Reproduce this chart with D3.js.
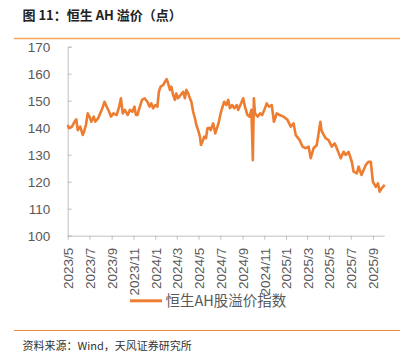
<!DOCTYPE html>
<html><head><meta charset="utf-8">
<script src="https://cdn.jsdelivr.net/npm/d3@7"></script>
<style>
html,body{margin:0;padding:0;background:#fff;}
svg{display:block;}
</style></head>
<body>
<script>
const dates = ["2023-05-01","2023-05-05","2023-05-13","2023-05-20","2023-05-25","2023-05-29","2023-06-05","2023-06-12","2023-06-15","2023-06-21","2023-06-26","2023-07-01","2023-07-06","2023-07-13","2023-07-17","2023-07-25","2023-07-31","2023-08-06","2023-08-12","2023-08-18","2023-08-25","2023-08-30","2023-09-06","2023-09-15","2023-09-22","2023-09-27","2023-10-02","2023-10-08","2023-10-16","2023-10-22","2023-10-29","2023-11-04","2023-11-08","2023-11-12","2023-11-19","2023-11-25","2023-12-02","2023-12-10","2023-12-16","2023-12-21","2023-12-26","2024-01-01","2024-01-07","2024-01-11","2024-01-16","2024-01-23","2024-01-28","2024-02-02","2024-02-06","2024-02-11","2024-02-15","2024-02-20","2024-02-25","2024-02-29","2024-03-05","2024-03-12","2024-03-19","2024-03-24","2024-03-28","2024-04-02","2024-04-07","2024-04-11","2024-04-16","2024-04-21","2024-04-25","2024-04-30","2024-05-05","2024-05-08","2024-05-12","2024-05-17","2024-05-22","2024-05-26","2024-05-31","2024-06-04","2024-06-11","2024-06-17","2024-06-23","2024-06-27","2024-07-02","2024-07-06","2024-07-12","2024-07-18","2024-07-23","2024-07-28","2024-08-03","2024-08-09","2024-08-16","2024-08-20","2024-08-28","2024-09-03","2024-09-08","2024-09-15","2024-09-21","2024-09-26","2024-09-30","2024-10-03","2024-10-06","2024-10-14","2024-10-20","2024-10-26","2024-11-01","2024-11-08","2024-11-14","2024-11-22","2024-11-28","2024-12-06","2024-12-14","2024-12-25","2025-01-05","2025-01-14","2025-01-22","2025-01-28","2025-02-08","2025-02-16","2025-02-25","2025-03-05","2025-03-11","2025-03-19","2025-03-28","2025-04-07","2025-04-10","2025-04-14","2025-04-22","2025-04-30","2025-05-09","2025-05-17","2025-05-25","2025-06-03","2025-06-11","2025-06-17","2025-06-25","2025-07-04","2025-07-09","2025-07-18","2025-07-23","2025-07-31","2025-08-12","2025-08-20","2025-08-26","2025-09-01","2025-09-09","2025-09-15","2025-09-20","2025-09-26","2025-10-04"];
const premium = [141,139.8,140.4,142.2,143.1,139.1,140.4,137.3,138.2,141,145.3,144.1,142.2,144.1,142.2,143.5,145.3,147.2,149.6,147.8,145.9,144.1,145.3,144.7,147.8,150.9,145.3,146.6,144.7,146.6,145.9,147.8,144.7,144.7,147.8,150.3,150.9,149.6,147.8,149,147.2,148.4,147.8,153.3,155.2,155.8,157,158,156.4,154,155.2,152.1,150.3,152.7,150.9,152.1,153.3,150.9,154,152.7,150.9,149.6,145.9,143.5,141,139.1,136.7,133.6,134.8,136.7,136.1,139.8,140,139.1,141.6,137.9,140.4,142.2,145.3,147.2,149.6,148.4,150.3,147.2,148.4,147.2,148.4,146.6,149,150.9,147.8,144.7,144.1,146.6,128,150.9,145.3,144.1,145.3,144.7,146.6,149,147.8,148.4,142.2,145.3,144.7,144.1,142.9,140.4,141.6,137.3,135.4,133,132.4,133,128.7,132.4,133.6,142.2,139.1,137.9,136.1,135.4,133,134.2,131.7,128.7,131.1,129.9,131,127.4,123.7,123.1,125.6,122.5,126.2,127.4,127.4,120,118.1,119.4,116.3,117.6,118.8];
const yTicks = [100,110,120,130,140,150,160,170];
const xTickLabels = ["2023/5","2023/7","2023/9","2023/11","2024/1","2024/3","2024/5","2024/7","2024/9","2024/11","2025/1","2025/3","2025/5","2025/7","2025/9"];
const seriesName = "恒生AH股溢价指数";
const title = "图 11：恒生 AH 溢价（点）";
const source = "资料来源：Wind，天风证券研究所";

(function(){
const W = 414, H = 357;
const parse = d3.timeParse("%Y-%m-%d");
const n = Math.min(dates.length, premium.length);
const data = dates.slice(0,n).map((d,i)=>({date:parse(d), v:premium[i]}));
const tickDates = xTickLabels.map(s=>{const [yy,mm]=s.split("/"); return new Date(+yy, +mm-1, 1);});

const svg = d3.select("body").append("svg").attr("width",W).attr("height",H);
const mLeft = 67.7, mRight = 384.7, mTop = 46.7, mBottom = 235.7;
const x = d3.scaleTime().domain([data[0].date, data[data.length-1].date]).range([mLeft,mRight]);
const y = d3.scaleLinear().domain([100,170]).range([mBottom,mTop]);

svg.append("text").attr("x",22.5).attr("y",20)
  .style("font-family","'Noto Sans CJK SC', sans-serif").style("font-weight","bold")
  .style("font-size","13px").attr("fill","#222").text(title);
svg.append("line").attr("x1",14).attr("x2",400).attr("y1",38.5).attr("y2",38.5)
  .attr("stroke","#F6A55E").attr("stroke-width",1.6);

const axisColor = "#bfbfbf", textColor = "#595959";
const fontFam = "'Liberation Sans', Arial, sans-serif";

const yAxis = svg.append("g").attr("transform",`translate(${mLeft},0)`)
  .call(d3.axisRight(y).tickValues(yTicks).tickSize(4).tickFormat(d3.format("d")));
yAxis.select(".domain").attr("stroke",axisColor);
yAxis.selectAll(".tick line").attr("stroke",axisColor);
yAxis.selectAll(".tick text").attr("x",-17.5).attr("text-anchor","end")
  .style("font-family",fontFam).style("font-size","13.5px").attr("fill",textColor).attr("dy","0.35em");

const xAxis = svg.append("g").attr("transform",`translate(0,${mBottom})`)
  .call(d3.axisBottom(x).tickValues(tickDates).tickSize(4).tickFormat((d,i)=>xTickLabels[i]));
xAxis.select(".domain").attr("stroke",axisColor).attr("d",`M${mLeft},0.5H${mRight}`);
xAxis.selectAll(".tick line").attr("stroke",axisColor);
xAxis.selectAll(".tick text").attr("transform","rotate(-90)")
  .attr("x",-12).attr("y",0).attr("dy","0.36em").attr("text-anchor","end")
  .style("font-family",fontFam).style("font-size","13.5px").attr("fill",textColor);

svg.append("path").datum(data).attr("fill","none").attr("stroke","#ED7D31")
  .attr("stroke-width",2.6).attr("stroke-linejoin","round")
  .attr("d", d3.line().x(d=>x(d.date)).y(d=>y(d.v)));

svg.append("rect").attr("x",130).attr("y",299.3).attr("width",32).attr("height",3).attr("fill","#ED7D31");
svg.append("text").attr("x",165.5).attr("y",306)
  .style("font-family","'Noto Sans CJK SC', sans-serif").style("font-size","14.5px")
  .attr("fill",textColor).text(seriesName);

svg.append("line").attr("x1",14).attr("x2",400).attr("y1",330.5).attr("y2",330.5)
  .attr("stroke","#F08A3C").attr("stroke-width",1);
svg.append("text").attr("x",22.5).attr("y",350)
  .style("font-family","'Noto Sans CJK SC', sans-serif").style("font-size","11px")
  .attr("fill","#333").text(source);
})();
</script>
</body></html>
